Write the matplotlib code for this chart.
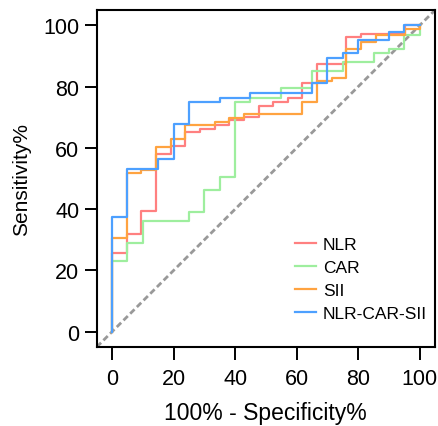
import numpy as np
import matplotlib.pyplot as plt

plt.rcParams['font.family'] = ['Liberation Sans', 'DejaVu Sans']

# ROC step points (100% - specificity, sensitivity)
nlr_fpr = [0, 0, 4.76, 9.52, 14.29, 19.05, 23.81, 28.57, 33.33, 38.10, 42.86, 47.62,
           52.38, 57.14, 61.90, 66.67, 76.19, 80.95, 95.24, 100]
nlr_tpr = [0, 25.7, 31.9, 39.5, 58.0, 60.7, 65.2, 66.3, 67.6, 69.0, 70.2, 73.6,
           74.9, 76.2, 81.2, 87.5, 96.2, 97.2, 100, 100]

car_fpr = [0, 0, 5, 10, 25, 30, 35, 40, 45, 55, 65, 75, 85, 90, 95, 100]
car_tpr = [0, 23.0, 28.8, 36.1, 39.2, 46.2, 50.5, 75.0, 76.3, 79.5, 85.0, 88.0,
           90.9, 92.3, 97.0, 100]

sii_fpr = [0, 0, 4.76, 9.52, 14.29, 19.05, 23.81, 33.33, 38.10, 42.86, 61.90, 66.67,
           71.43, 76.19, 80.95, 85.71, 95.24, 100]
sii_tpr = [0, 30.7, 51.7, 52.8, 60.3, 62.8, 67.5, 68.6, 69.9, 71.2, 75.1, 82.0,
           82.8, 92.2, 94.7, 96.9, 98.7, 100]

comb_fpr = [0, 0, 5, 15, 20, 25, 35, 45, 65, 70, 75, 80, 90, 95, 100]
comb_tpr = [0, 37.3, 53.2, 56.3, 67.9, 75.0, 76.4, 77.8, 81.1, 89.4, 91.0, 95.2,
            98.0, 100, 100]

labels = ['NLR', 'CAR', 'SII', 'NLR-CAR-SII']
colors = ['#FF8080', '#9EEE9E', '#FFA340', '#4DA0FF']
curves = [(nlr_fpr, nlr_tpr), (car_fpr, car_tpr), (sii_fpr, sii_tpr), (comb_fpr, comb_tpr)]

fig = plt.figure(figsize=(4.38, 4.27), dpi=100)
ax = fig.add_axes([0.2208, 0.185, 0.7724, 0.789])

ax.plot([-5, 105], [-5, 105], color='#999999', lw=2, dashes=(2.2, 1.2), zorder=1)
for (fx, ty), lab, col in zip(curves, labels, colors):
    ax.plot(fx, ty, drawstyle='steps-post', color=col, lw=1.6, label=lab, zorder=2)

ax.set_xlim(-5, 105)
ax.set_ylim(-5, 105)
ax.set_xticks(np.arange(0, 101, 20))
ax.set_yticks(np.arange(0, 101, 20))
for s in ax.spines.values():
    s.set_linewidth(1.5)
ax.tick_params(axis='both', direction='out', length=9, width=1.4, labelsize=15.5)
ax.tick_params(axis='x', pad=6)
ax.tick_params(axis='y', pad=3.5)

ax.set_xlabel('100% - Specificity%', fontsize=16.5, labelpad=9)
ax.set_ylabel('Sensitivity%', fontsize=15, labelpad=9)

ax.legend(loc='upper left', bbox_to_anchor=(0.586, 0.326), frameon=False, fontsize=12.5,
          handlelength=1.2, handletextpad=0.42, labelspacing=0.44, borderpad=0,
          borderaxespad=0)

plt.savefig('out.png', dpi=100)
